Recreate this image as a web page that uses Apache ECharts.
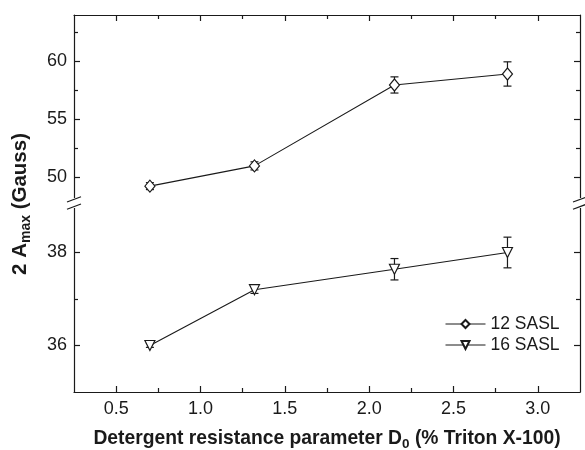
<!DOCTYPE html>
<html>
<head>
<meta charset="utf-8">
<script src="https://cdn.jsdelivr.net/npm/echarts@6/dist/echarts.min.js"></script>
<style>
html,body{margin:0;padding:0;background:#fff;}
#chart{width:585px;height:450px;}
</style>
</head>
<body>
<div id="chart"></div>
<script>
// ---- data ----
const seriesNames = ['12 SASL', '16 SASL'];
const xValues = [0.70, 1.32, 2.15, 2.82];
const sasl12 = [49.2, 50.95, 57.95, 58.9];
const sasl12Err = [0.3, 0.35, 0.7, 1.05];
const sasl16 = [36.0, 37.2, 37.64, 38.0];
const sasl16Err = [0.04, 0.08, 0.23, 0.33];
const xTickLabels = [0.5, 1.0, 1.5, 2.0, 2.5, 3.0];
const xMinorTicks = [0.75, 1.25, 1.75, 2.25, 2.75];
const yUpperTicks = [50, 55, 60];
const yUpperMinor = [52.5, 57.5, 62.5];
const yLowerTicks = [36, 38];
const yLowerMinor = [37];

// ---- layout ----
const L = 74, R = 580;
const G1 = {top: 15, bottom: 200};
const G2 = {top: 206, bottom: 392};
const FONT = '"Liberation Sans", Arial, Helvetica, sans-serif';
const INK = '#1a1a1a';

const chart = echarts.init(document.getElementById('chart'));

function xAx(grid, pos, ticks, len, showLine, labels) {
  return {
    type: 'value', gridIndex: grid, position: pos, min: 0.25, max: 3.25,
    axisLine: {show: showLine, lineStyle: {color: INK, width: 1.2}},
    axisTick: {show: true, inside: true, length: len, customValues: ticks, lineStyle: {color: INK, width: 1.2}},
    axisLabel: labels ? {show: true, customValues: ticks, margin: 8, fontSize: 18, color: INK, fontFamily: FONT,
      formatter: v => v.toFixed(1)} : {show: false},
    splitLine: {show: false}
  };
}
function yAx(grid, pos, min, max, ticks, len, showLine, labels) {
  return {
    type: 'value', gridIndex: grid, position: pos, min: min, max: max,
    axisLine: {show: showLine, lineStyle: {color: INK, width: 1.2}},
    axisTick: {show: true, inside: true, length: len, customValues: ticks, lineStyle: {color: INK, width: 1.2}},
    axisLabel: labels ? {show: true, customValues: ticks, margin: 7, fontSize: 18, color: INK, fontFamily: FONT} : {show: false},
    splitLine: {show: false}
  };
}

function errRender(params, api) {
  const x = api.value(0), y = api.value(1), e = api.value(2);
  const t = api.coord([x, y + e]);
  const b = api.coord([x, y - e]);
  const w = 4;
  const st = {stroke: INK, lineWidth: 1.2};
  return {
    type: 'group',
    children: [
      {type: 'line', shape: {x1: t[0], y1: t[1], x2: b[0], y2: b[1]}, style: st},
      {type: 'line', shape: {x1: t[0] - w, y1: t[1], x2: t[0] + w, y2: t[1]}, style: st},
      {type: 'line', shape: {x1: b[0] - w, y1: b[1], x2: b[0] + w, y2: b[1]}, style: st}
    ]
  };
}

const d12 = xValues.map((x, i) => [x, sasl12[i]]);
const d16 = xValues.map((x, i) => [x, sasl16[i]]);
const e12 = xValues.map((x, i) => [x, sasl12[i], sasl12Err[i]]);
const e16 = xValues.map((x, i) => [x, sasl16[i], sasl16Err[i]]);

function breakMarks(cx, cy) {
  const hw = 7, hh = 2.6, gap = 3.6;
  const out = [];
  out.push({type: 'rect', shape: {x: cx - 3, y: cy - 5, width: 6, height: 10}, style: {fill: '#fff'}, z: 100});
  [-gap, gap].forEach(d => {
    out.push({type: 'line', shape: {x1: cx - hw, y1: cy + d + hh, x2: cx + hw, y2: cy + d - hh},
      style: {stroke: INK, lineWidth: 1.2}, z: 101});
  });
  return out;
}
const midY = (G1.bottom + G2.top) / 2;

const option = {
  animation: false,
  backgroundColor: '#fff',
  grid: [
    {left: L, width: R - L, top: G1.top, height: G1.bottom - G1.top, containLabel: false},
    {left: L, width: R - L, top: G2.top, height: G2.bottom - G2.top, containLabel: false}
  ],
  xAxis: [
    xAx(0, 'top', xTickLabels, 6, true, false),
    xAx(0, 'top', xMinorTicks, 4, false, false),
    xAx(1, 'bottom', xTickLabels, 6, true, true),
    xAx(1, 'bottom', xMinorTicks, 4, false, false)
  ],
  yAxis: [
    yAx(0, 'left', 48, 64, yUpperTicks, 6, true, true),
    yAx(0, 'left', 48, 64, yUpperMinor, 4, false, false),
    yAx(0, 'right', 48, 64, yUpperTicks, 6, true, false),
    yAx(0, 'right', 48, 64, yUpperMinor, 4, false, false),
    yAx(1, 'left', 35, 39, yLowerTicks, 6, true, true),
    yAx(1, 'left', 35, 39, yLowerMinor, 4, false, false),
    yAx(1, 'right', 35, 39, yLowerTicks, 6, true, false),
    yAx(1, 'right', 35, 39, yLowerMinor, 4, false, false)
  ],
  legend: {
    data: seriesNames, orient: 'vertical', left: 440, top: 310,
    itemWidth: 40, itemHeight: 10, itemGap: 3,
    lineStyle: {width: 1},
    textStyle: {fontSize: 17.5, color: INK, fontFamily: FONT}
  },
  series: [
    {type: 'custom', xAxisIndex: 0, yAxisIndex: 0, renderItem: errRender, data: e12, z: 1, silent: true},
    {type: 'custom', xAxisIndex: 2, yAxisIndex: 4, renderItem: errRender, data: e16, z: 1, silent: true},
    {name: seriesNames[0], type: 'line', xAxisIndex: 0, yAxisIndex: 0, data: d12, z: 3,
      symbol: 'diamond', symbolSize: [10, 12], showAllSymbol: true,
      lineStyle: {color: INK, width: 1.1},
      itemStyle: {color: '#fff', borderColor: INK, borderWidth: 1.2}},
    {name: seriesNames[1], type: 'line', xAxisIndex: 2, yAxisIndex: 4, data: d16, z: 3,
      symbol: 'triangle', symbolRotate: 180, symbolSize: [10, 10], showAllSymbol: true,
      lineStyle: {color: INK, width: 1.1},
      itemStyle: {color: '#fff', borderColor: INK, borderWidth: 1.2}}
  ],
  graphic: [
    ...breakMarks(L, midY),
    ...breakMarks(R, midY),
    {type: 'text', x: 20, y: 204, rotation: Math.PI / 2, z: 50,
      style: {text: '{b|2 A}{s|max}{b| (Gauss)}', align: 'center', verticalAlign: 'middle',
        rich: {
          b: {fontSize: 20.5, fontWeight: 'bold', fontFamily: FONT, fill: INK, color: INK},
          s: {fontSize: 14, fontWeight: 'bold', fontFamily: FONT, fill: INK, color: INK, padding: [12, 0, 0, 0]}
        }}},
    {type: 'text', x: 327, y: 439, z: 50,
      style: {text: '{b|Detergent resistance parameter D}{s|0}{b| (% Triton X-100)}', align: 'center', verticalAlign: 'middle',
        rich: {
          b: {fontSize: 19.3, fontWeight: 'bold', fontFamily: FONT, fill: INK, color: INK},
          s: {fontSize: 13.5, fontWeight: 'bold', fontFamily: FONT, fill: INK, color: INK, padding: [11, 0, 0, 0]}
        }}}
  ]
};
chart.setOption(option);
</script>
</body>
</html>
